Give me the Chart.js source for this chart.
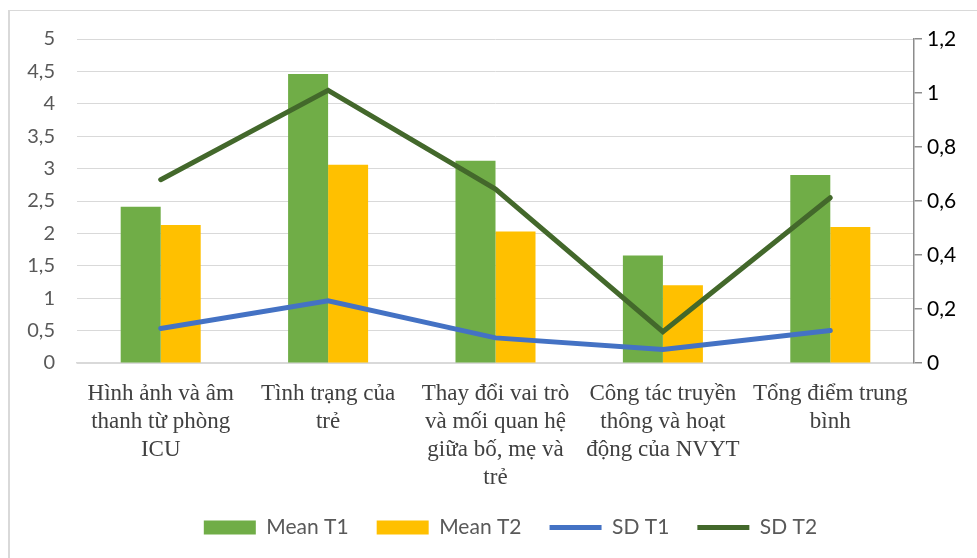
<!DOCTYPE html>
<html>
<head>
<meta charset="utf-8">
<script src="https://cdn.jsdelivr.net/npm/chart.js@4.4.1/dist/chart.umd.min.js"></script>
<style>
  html, body { margin: 0; padding: 0; background: #ffffff; overflow: hidden; }
  #wrap { position: relative; width: 977px; height: 558px; overflow: hidden; }
  #frame { position: absolute; left: 8px; top: 10px; width: 2000px; height: 2000px;
           border-left: 2px solid #d9d9d9; border-top: 1px solid #d9d9d9; }
  canvas { position: absolute; left: 0; top: 0; }
</style>
</head>
<body>
<div id="wrap">
  <div id="frame"></div>
  <canvas id="c" width="977" height="548"></canvas>
</div>
<script>
const categories = [
  ["Hình ảnh và âm", "thanh từ phòng", "ICU"],
  ["Tình trạng của", "trẻ"],
  ["Thay đổi vai trò", "và mối quan hệ", "giữa bố, mẹ và", "trẻ"],
  ["Công tác truyền", "thông và hoạt", "động của NVYT"],
  ["Tổng điểm trung", "bình"]
];
const seriesNames = ["Mean T1", "Mean T2", "SD T1", "SD T2"];
const meanT1 = [2.41, 4.46, 3.12, 1.66, 2.90];
const meanT2 = [2.13, 3.06, 2.03, 1.20, 2.10];
const sdT1 = [0.128, 0.230, 0.093, 0.050, 0.120];
const sdT2 = [0.679, 1.010, 0.644, 0.116, 0.612];
const leftTicks = { min: 0, max: 5, step: 0.5 };
const rightTicks = { min: 0, max: 1.2, step: 0.2 };

const fmt = v => String(Number(Number(v).toFixed(2))).replace('.', ',');

const legendShift = {
  id: 'legendShift',
  afterLayout(chart) {
    if (chart.legend) { chart.legend.left += 15; chart.legend.right += 15; }
  }
};

new Chart(document.getElementById('c'), {
  plugins: [legendShift],
  data: {
    labels: categories,
    datasets: [
      { type: 'bar', label: seriesNames[0], data: meanT1, backgroundColor: '#70AD47',
        borderWidth: 0, yAxisID: 'y', order: 2, pointStyle: 'rect',
        categoryPercentage: 0.478, barPercentage: 1.0 },
      { type: 'bar', label: seriesNames[1], data: meanT2, backgroundColor: '#FFC000',
        borderWidth: 0, yAxisID: 'y', order: 2, pointStyle: 'rect',
        categoryPercentage: 0.478, barPercentage: 1.0 },
      { type: 'line', label: seriesNames[2], data: sdT1, borderColor: '#4472C4', backgroundColor: '#4472C4',
        borderWidth: 5, pointRadius: 0, pointHoverRadius: 0, tension: 0, yAxisID: 'y1', order: 1,
        pointStyle: 'line', borderCapStyle: 'round', borderJoinStyle: 'miter' },
      { type: 'line', label: seriesNames[3], data: sdT2, borderColor: '#43682B', backgroundColor: '#43682B',
        borderWidth: 5, pointRadius: 0, pointHoverRadius: 0, tension: 0, yAxisID: 'y1', order: 1,
        pointStyle: 'line', borderCapStyle: 'round', borderJoinStyle: 'miter' }
    ]
  },
  options: {
    responsive: false,
    animation: false,
    devicePixelRatio: 1,
    layout: { padding: { top: 39, left: 0, right: 0, bottom: 0 } },
    plugins: {
      tooltip: { enabled: false },
      legend: {
        position: 'bottom',
        fullSize: false,
        labels: {
          usePointStyle: true,
          pointStyleWidth: 52,
          boxHeight: 14,
          padding: 28,
          color: '#595959',
          font: { family: 'Lato', size: 21 },
          sort: (a, b) => a.datasetIndex - b.datasetIndex
        }
      }
    },
    scales: {
      x: {
        grid: { display: false, drawTicks: false },
        border: { display: true, color: '#d9d9d9', width: 1.5 },
        ticks: {
          autoSkip: false, maxRotation: 0, minRotation: 0, padding: 17,
          color: '#404040',
          font: { family: 'Liberation Serif', size: 23, lineHeight: 1.22 }
        },
        afterFit: s => { s.height = 126; }
      },
      y: {
        position: 'left',
        min: leftTicks.min, max: leftTicks.max,
        grid: { color: '#d9d9d9', lineWidth: 1, drawTicks: false },
        border: { display: false },
        ticks: { stepSize: leftTicks.step, padding: 22, color: '#595959',
                 font: { family: 'Lato', size: 20 }, callback: v => fmt(v) },
        afterFit: s => { s.width = 77; }
      },
      y1: {
        position: 'right',
        min: rightTicks.min, max: rightTicks.max,
        grid: { drawOnChartArea: false, drawTicks: true, tickLength: 8, color: '#8c8c8c', lineWidth: 1.5 },
        border: { display: true, color: '#8c8c8c', width: 1.5 },
        ticks: { stepSize: rightTicks.step, padding: 5, color: '#000000',
                 font: { family: 'Lato', size: 21 }, callback: v => fmt(v) },
        afterFit: s => { s.width = 63; }
      }
    }
  }
});
</script>
</body>
</html>
